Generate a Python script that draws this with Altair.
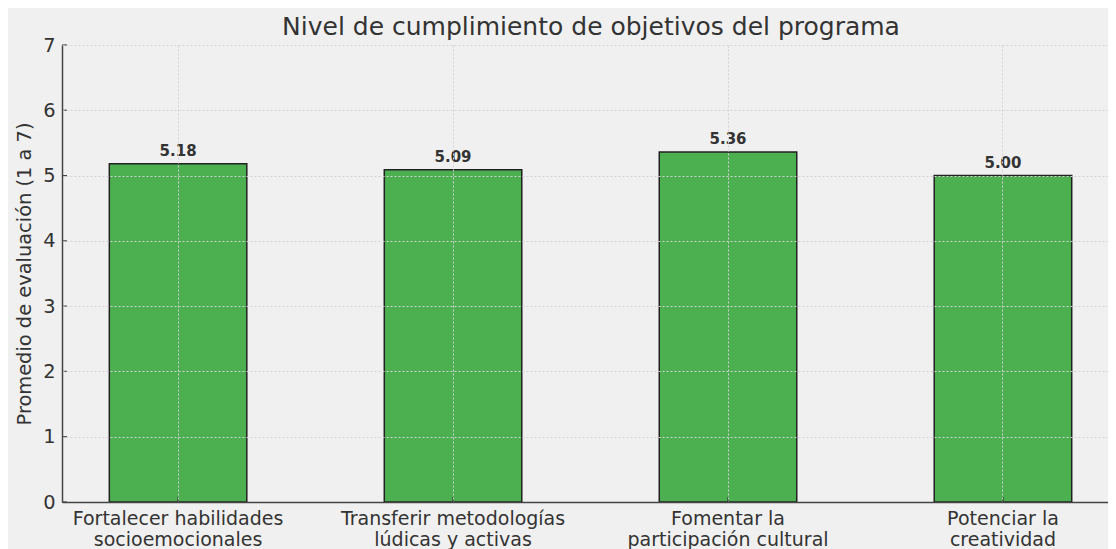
import altair as alt
import pandas as pd

categories = [
    "Fortalecer habilidades\nsocioemocionales",
    "Transferir metodologías\nlúdicas y activas",
    "Fomentar la\nparticipación cultural",
    "Potenciar la\ncreatividad",
]
values = [5.18, 5.09, 5.36, 5.00]
labels = ["5.18", "5.09", "5.36", "5.00"]
y_ticks = [0, 1, 2, 3, 4, 5, 6, 7]

df = pd.DataFrame({"cat": categories, "val": values, "lab": labels})
ticks_df = pd.DataFrame({"t": y_ticks})

W = 1046
H = 457
FONT = "DejaVu Sans"
TXT = "#333333"
GRID = "#d2d2d2"

xscale = alt.Scale(domain=categories, paddingInner=0.5, paddingOuter=0.152, align=0.566)
yscale = alt.Scale(domain=[0, 7], nice=False)

x_enc = alt.X(
    "cat:N",
    scale=xscale,
    sort=categories,
    axis=alt.Axis(
        title=None,
        labelAngle=0,
        labelExpr="split(datum.label, '\\n')",
        labelFont=FONT,
        labelFontSize=19,
        labelColor=TXT,
        labelPadding=7,
        labelLineHeight=21,
        labelLimit=0,
        ticks=False,
        domainColor="#444444",
        domainWidth=1.5,
        grid=True,
        gridColor=GRID,
        gridDash=[2, 2],
        gridWidth=1,
        bandPosition=0.5,
        zindex=1,
    ),
)
y_enc = alt.Y(
    "val:Q",
    scale=yscale,
    axis=alt.Axis(
        title="Promedio de evaluación (1 a 7)",
        titleFont=FONT,
        titleFontSize=19.4,
        titleFontWeight="normal",
        titleColor=TXT,
        titlePadding=8,
        values=y_ticks,
        format="d",
        labelFont=FONT,
        labelFontSize=19.4,
        labelColor=TXT,
        labelPadding=7,
        ticks=False,
        domainColor="#444444",
        domainWidth=1.5,
        grid=True,
        gridColor=GRID,
        gridDash=[2, 2],
        gridWidth=1,
        zindex=1,
    ),
)

base = alt.Chart(df)

bars = base.mark_bar(color="#4caf50", stroke="#222222", strokeWidth=1.5).encode(
    x=x_enc, y=y_enc
)

text = base.mark_text(
    font=FONT, fontSize=15, fontWeight="bold", color=TXT, dy=-8, baseline="alphabetic"
).encode(
    x=alt.X("cat:N", scale=xscale, sort=categories),
    y=alt.Y("val:Q", scale=yscale),
    text="lab:N",
)

yticks = alt.Chart(ticks_df).mark_rule(color="#444444", strokeWidth=1.2).encode(
    y=alt.Y("t:Q", scale=yscale),
    x=alt.value(0),
    x2=alt.value(5),
)

xticks = base.mark_rule(color="#333333", strokeWidth=1.2).encode(
    x=alt.X("cat:N", scale=xscale, sort=categories),
    y=alt.value(H),
    y2=alt.value(H - 5),
)

chart = (
    alt.layer(bars, text, yticks, xticks)
    .properties(
        width=W,
        height=H,
        background="#f0f0f0",
        autosize=alt.AutoSizeParams(type="none"),
        padding={"left": 54, "top": 37, "right": 0, "bottom": 50},
        title=alt.TitleParams(
            "Nivel de cumplimiento de objetivos del programa",
            font=FONT,
            fontSize=25,
            fontWeight="normal",
            color=TXT,
            anchor="middle",
            offset=-5,
            dx=6,
        ),
    )
    .configure_view(stroke=None)
)

chart.save("out.html", embed_options={"renderer": "svg", "actions": False})
